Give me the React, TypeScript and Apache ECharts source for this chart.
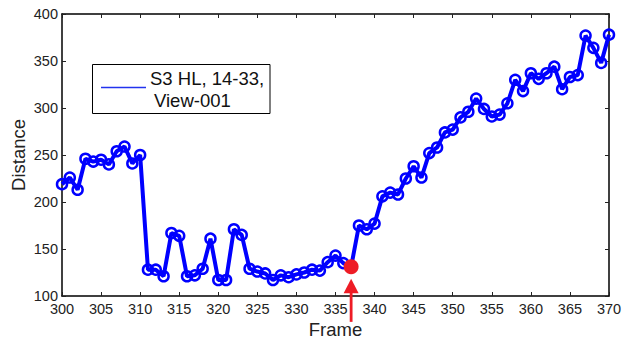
import React, { useEffect, useRef } from "react";
import * as echarts from "echarts";

const frames = [
  300, 301, 302, 303, 304, 305, 306, 307, 308, 309,
  310, 311, 312, 313, 314, 315, 316, 317, 318, 319,
  320, 321, 322, 323, 324, 325, 326, 327, 328, 329,
  330, 331, 332, 333, 334, 335, 336, 337, 338, 339,
  340, 341, 342, 343, 344, 345, 346, 347, 348, 349,
  350, 351, 352, 353, 354, 355, 356, 357, 358, 359,
  360, 361, 362, 363, 364, 365, 366, 367, 368, 369, 370,
];
const distances = [
  219, 226, 213, 246, 243, 245, 240, 254, 259, 241,
  250, 128, 128, 121, 167, 164, 121, 122, 129, 161,
  117, 117, 171, 165, 129, 126, 124, 117, 122, 120,
  123, 125, 128, 127, 136, 143, 135, 131, 175, 171,
  177, 206, 210, 208, 225, 238, 226, 252, 258, 274,
  277, 290, 296, 310, 299, 291, 293, 305, 330, 318,
  337, 331, 337, 344, 320, 333, 335, 377, 364, 348, 378,
];
const highlightFrame = 337;
const seriesName = "S3 HL, 14-33,";
const seriesName2 = "View-001";
const xTicks = { min: 300, max: 370, interval: 5 };
const yTicks = { min: 100, max: 400, interval: 50 };

const BLUE = "#0000ff";
const RED = "#ee1c25";
const FONT = "Liberation Sans, Arial, sans-serif";

export default function App() {
  const ref = useRef<HTMLDivElement>(null);
  useEffect(() => {
    document.body.style.margin = "0";
    const chart = echarts.init(ref.current!, null, { renderer: "svg" });
    const lineData = frames.map((f, i) => [f, distances[i]]);
    const hiIdx = frames.indexOf(highlightFrame);
    const hiPoint = [highlightFrame, distances[hiIdx]];
    const axisLine = { show: true, lineStyle: { color: "#000", width: 1.5 } };
    const tick = { show: true, inside: true, length: 4, lineStyle: { color: "#222", width: 1 } };
    const label = { fontFamily: FONT, fontSize: 14.5, color: "#222" };
    chart.setOption({
      animation: false,
      backgroundColor: "#fff",
      grid: { left: 62, right: 16, top: 14, bottom: 42, containLabel: false, outerBoundsMode: "none" },
      xAxis: [
        {
          type: "value", ...xTicks, position: "bottom",
          axisLine, axisTick: tick, splitLine: { show: false },
          axisLabel: { ...label, margin: 5 },
          name: "Frame", nameLocation: "middle", nameGap: 23.5, nameMoveOverlap: false,
          nameTextStyle: { fontFamily: FONT, fontSize: 18.5, color: "#222" },
        },
        {
          type: "value", ...xTicks, position: "top",
          axisLine, axisTick: tick, splitLine: { show: false }, axisLabel: { show: false },
        },
      ],
      yAxis: [
        {
          type: "value", ...yTicks, position: "left",
          axisLine, axisTick: tick, splitLine: { show: false },
          axisLabel: { ...label, margin: 4 },
          name: "Distance", nameLocation: "middle", nameGap: 34, nameMoveOverlap: false,
          nameTextStyle: { fontFamily: FONT, fontSize: 18.5, color: "#222" },
        },
        {
          type: "value", ...yTicks, position: "right",
          axisLine, axisTick: tick, splitLine: { show: false }, axisLabel: { show: false },
        },
      ],
      series: [
        {
          name: seriesName,
          type: "line",
          data: lineData,
          lineStyle: { color: BLUE, width: 4 },
          symbol: "circle",
          symbolSize: 10,
          itemStyle: { color: "rgba(0,0,0,0)", borderColor: BLUE, borderWidth: 2.5 },
          z: 3,
        },
        {
          type: "scatter",
          data: [hiPoint],
          symbolSize: 15,
          itemStyle: { color: RED, opacity: 1 },
          z: 5,
        },
      ],
    });
    const p = chart.convertToPixel({ xAxisIndex: 0, yAxisIndex: 0 }, hiPoint) as number[];
    const ax = p[0];
    const tipY = p[1] + 12;
    chart.setOption({
      graphic: [
        {
          type: "polygon",
          shape: { points: [[ax, tipY], [ax - 7.5, tipY + 14.5], [ax + 7.5, tipY + 14.5]] },
          style: { fill: RED },
          z: 10,
        },
        {
          type: "rect",
          shape: { x: ax - 1.4, y: tipY + 13, width: 2.8, height: 30 },
          style: { fill: RED },
          z: 10,
        },
        {
          type: "rect",
          shape: { x: 92.5, y: 64.5, width: 177.5, height: 49 },
          style: { fill: "#fff", stroke: "#000", lineWidth: 1 },
          z: 20,
        },
        {
          type: "line",
          shape: { x1: 101, y1: 87.5, x2: 146, y2: 87.5 },
          style: { stroke: "#2233ee", lineWidth: 1.5 },
          z: 21,
        },
        {
          type: "text",
          x: 150, y: 78,
          style: { text: seriesName, font: `18.5px ${FONT}`, fill: "#111", verticalAlign: "middle" },
          z: 21,
        },
        {
          type: "text",
          x: 154, y: 100,
          style: { text: seriesName2, font: `18.5px ${FONT}`, fill: "#111", verticalAlign: "middle" },
          z: 21,
        },
      ],
    });
    return () => chart.dispose();
  }, []);
  return <div ref={ref} style={{ position: "absolute", left: 0, top: 0, width: 625, height: 338 }} />;
}
